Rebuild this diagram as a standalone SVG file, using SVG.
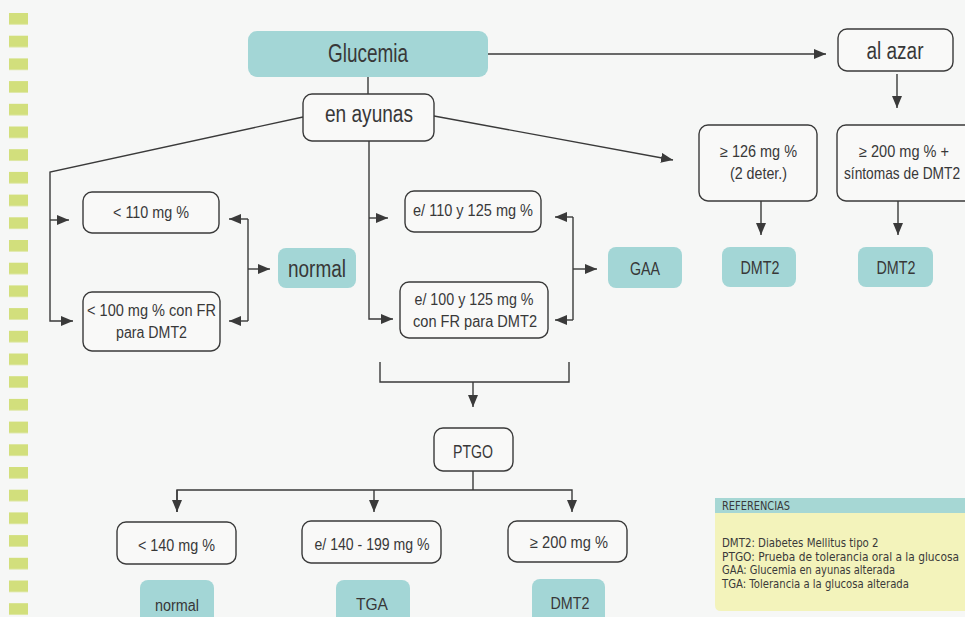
<svg xmlns="http://www.w3.org/2000/svg" width="965" height="617" viewBox="0 0 965 617">
<defs>
<style>
.bg{fill:#f6f7f6}
.sq{fill:#d2df7c}
.box{fill:#f9f9f8;stroke:#3a3a3a;stroke-width:1.4}
.teal{fill:#a3d6d6}
.t{font-family:"Liberation Sans Narrow","Liberation Sans",Arial,sans-serif;fill:#383838;text-anchor:middle}
.big{font-size:23px}
.mid{font-size:16px}
.med{font-size:18px}
.ln{fill:none;stroke:#3a3a3a;stroke-width:1.4}
.ref{font-family:"DejaVu Sans","Liberation Sans",sans-serif;font-size:11.5px;fill:#3a3a3a}
</style>
<marker id="ah" markerUnits="userSpaceOnUse" markerWidth="13" markerHeight="11" refX="12" refY="5" orient="auto">
<path d="M0,0 L12,5 L0,10 z" fill="#3a3a3a"/>
</marker>
<pattern id="sqp" x="9" y="13" width="19" height="22.7" patternUnits="userSpaceOnUse">
<rect x="0" y="0" width="19" height="11.5" class="sq"/>
</pattern>
</defs>
<rect class="bg" x="0" y="0" width="965" height="617"/>
<rect x="9" y="13" width="19" height="604" fill="url(#sqp)"/>

<g id="connectors">
<path class="ln" d="M488,54 H826" marker-end="url(#ah)"/>
<path class="ln" d="M897,74 V108" marker-end="url(#ah)"/>
<path class="ln" d="M368,77 V94"/>
<path class="ln" d="M303,117 L50,172 V321 H73" marker-end="url(#ah)"/>
<path class="ln" d="M50,220 H69" marker-end="url(#ah)"/>
<path class="ln" d="M434,116 L673,160" marker-end="url(#ah)"/>
<path class="ln" d="M369,141 V319 H393" marker-end="url(#ah)"/>
<path class="ln" d="M369,218 H388" marker-end="url(#ah)"/>
<path class="ln" d="M761,201 V235" marker-end="url(#ah)"/>
<path class="ln" d="M898,201 V235" marker-end="url(#ah)"/>
<path class="ln" d="M248,219 V321"/>
<path class="ln" d="M248,219 H229" marker-end="url(#ah)"/>
<path class="ln" d="M248,321 H229" marker-end="url(#ah)"/>
<path class="ln" d="M248,269 H270" marker-end="url(#ah)"/>
<path class="ln" d="M573,217 V320"/>
<path class="ln" d="M573,217 H555" marker-end="url(#ah)"/>
<path class="ln" d="M573,320 H555" marker-end="url(#ah)"/>
<path class="ln" d="M573,269 H597" marker-end="url(#ah)"/>
<path class="ln" d="M380,362 V382 H569 V362"/>
<path class="ln" d="M473,382 V407" marker-end="url(#ah)"/>
<path class="ln" d="M473,471 V490"/>
<path class="ln" d="M177,512 V490 H572 V512" marker-end="url(#ah)"/>
<path class="ln" d="M177,490 V512" marker-end="url(#ah)"/>
<path class="ln" d="M374,490 V512" marker-end="url(#ah)"/>
</g>

<g id="glucemia">
<rect class="teal" x="248" y="31" width="240" height="46" rx="9"/>
<text class="t" x="368" y="62" font-size="25" textLength="80" lengthAdjust="spacingAndGlyphs">Glucemia</text>
</g>
<g id="en-ayunas">
<rect class="box" x="303" y="94" width="131" height="47" rx="9"/>
<text class="t big" x="369" y="122" textLength="88" lengthAdjust="spacingAndGlyphs">en ayunas</text>
</g>
<g id="al-azar">
<rect class="box" x="838" y="29" width="115" height="42" rx="9"/>
<text class="t big" x="895" y="59" textLength="57" lengthAdjust="spacingAndGlyphs">al azar</text>
</g>
<g id="lt110">
<rect class="box" x="83" y="192" width="136" height="41" rx="9"/>
<text class="t mid" x="151" y="218" textLength="76" lengthAdjust="spacingAndGlyphs">&lt; 110 mg %</text>
</g>
<g id="lt100">
<rect class="box" x="83" y="292" width="137" height="59" rx="9"/>
<text class="t mid" x="151.5" y="316" textLength="129" lengthAdjust="spacingAndGlyphs">&lt; 100 mg % con FR</text>
<text class="t mid" x="151.5" y="338" textLength="71" lengthAdjust="spacingAndGlyphs">para DMT2</text>
</g>
<g id="normal1">
<rect class="teal" x="278" y="248" width="78" height="40" rx="8"/>
<text class="t big" x="317" y="277" textLength="58" lengthAdjust="spacingAndGlyphs">normal</text>
</g>
<g id="e110">
<rect class="box" x="405" y="191" width="136" height="41" rx="9"/>
<text class="t mid" x="473" y="216" textLength="120" lengthAdjust="spacingAndGlyphs">e/ 110 y 125 mg %</text>
</g>
<g id="e100">
<rect class="box" x="400" y="282" width="148" height="56" rx="9"/>
<text class="t mid" x="474" y="305" textLength="119" lengthAdjust="spacingAndGlyphs">e/ 100 y 125 mg %</text>
<text class="t mid" x="475" y="327" textLength="124" lengthAdjust="spacingAndGlyphs">con FR para DMT2</text>
</g>
<g id="gaa">
<rect class="teal" x="608" y="247" width="74" height="41" rx="8"/>
<text class="t med" x="645" y="275" textLength="30" lengthAdjust="spacingAndGlyphs">GAA</text>
</g>
<g id="ge126">
<rect class="box" x="699" y="125" width="118" height="76" rx="9"/>
<text class="t mid" x="758.5" y="157" textLength="77" lengthAdjust="spacingAndGlyphs">≥ 126 mg %</text>
<text class="t mid" x="758.5" y="179" textLength="57" lengthAdjust="spacingAndGlyphs">(2 deter.)</text>
</g>
<g id="ge200s">
<rect class="box" x="837" y="125" width="136" height="76" rx="9"/>
<text class="t mid" x="904" y="157" textLength="90" lengthAdjust="spacingAndGlyphs">≥ 200 mg % +</text>
<text class="t mid" transform="translate(902,179) scale(0.86,1)" x="0" y="0" textLength="135" lengthAdjust="spacingAndGlyphs">síntomas de DMT2</text>
</g>
<g id="dmt2a">
<rect class="teal" x="722" y="247" width="74" height="40" rx="8"/>
<text class="t med" x="760" y="274" textLength="39" lengthAdjust="spacingAndGlyphs">DMT2</text>
</g>
<g id="dmt2b">
<rect class="teal" x="858" y="247" width="75" height="40" rx="8"/>
<text class="t med" x="896" y="274" textLength="39" lengthAdjust="spacingAndGlyphs">DMT2</text>
</g>
<g id="ptgo">
<rect class="box" x="434" y="428" width="79" height="43" rx="9"/>
<text class="t med" x="473" y="458" textLength="40" lengthAdjust="spacingAndGlyphs">PTGO</text>
</g>
<g id="lt140">
<rect class="box" x="117" y="522" width="119" height="42" rx="9"/>
<text class="t mid" x="176.5" y="551" textLength="77" lengthAdjust="spacingAndGlyphs">&lt; 140 mg %</text>
</g>
<g id="e140">
<rect class="box" x="302" y="521" width="139" height="42" rx="9"/>
<text class="t mid" x="372" y="550" textLength="115" lengthAdjust="spacingAndGlyphs">e/ 140 - 199 mg %</text>
</g>
<g id="ge200">
<rect class="box" x="508" y="521" width="119" height="41" rx="9"/>
<text class="t mid" x="569" y="548" textLength="78" lengthAdjust="spacingAndGlyphs">≥ 200 mg %</text>
</g>
<g id="normal2">
<rect class="teal" x="140" y="580" width="74" height="50" rx="8"/>
<text class="t mid" x="177" y="611" font-size="17" textLength="44" lengthAdjust="spacingAndGlyphs">normal</text>
</g>
<g id="tga">
<rect class="teal" x="336" y="580" width="74" height="50" rx="8"/>
<text class="t mid" x="372" y="610" font-size="17" textLength="32" lengthAdjust="spacingAndGlyphs">TGA</text>
</g>
<g id="dmt2c">
<rect class="teal" x="532" y="579" width="73" height="50" rx="8"/>
<text class="t mid" x="570" y="609" font-size="17" textLength="39" lengthAdjust="spacingAndGlyphs">DMT2</text>
</g>

<g id="referencias">
<path d="M715,513 H965 V611 H721 Q715,611 715,605 Z" fill="#f3f3bb"/>
<rect x="715" y="498" width="250" height="15" fill="#a6d7d4"/>
<text class="ref" transform="translate(722,510) scale(0.82,1)" textLength="83" lengthAdjust="spacingAndGlyphs">REFERENCIAS</text>
<text class="ref" transform="translate(722,547) scale(0.82,1)" textLength="191" lengthAdjust="spacingAndGlyphs">DMT2: Diabetes Mellitus tipo 2</text>
<text class="ref" transform="translate(722,560.5) scale(0.82,1)" textLength="289" lengthAdjust="spacingAndGlyphs">PTGO: Prueba de tolerancia oral a la glucosa</text>
<text class="ref" transform="translate(722,574) scale(0.82,1)" textLength="211" lengthAdjust="spacingAndGlyphs">GAA: Glucemia en ayunas alterada</text>
<text class="ref" transform="translate(722,587.5) scale(0.82,1)" textLength="228" lengthAdjust="spacingAndGlyphs">TGA: Tolerancia a la glucosa alterada</text>
</g>
</svg>
